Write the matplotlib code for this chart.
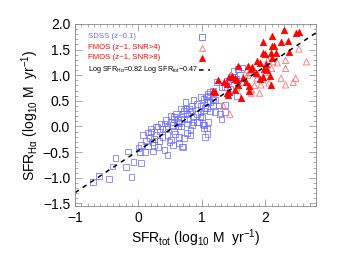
import matplotlib
matplotlib.use('Agg')
import matplotlib.pyplot as plt
import numpy as np
from matplotlib.ticker import MultipleLocator

plt.rcParams['font.family'] = ['Liberation Sans', 'DejaVu Sans']
plt.rcParams['mathtext.fontset'] = 'custom'
plt.rcParams['mathtext.rm'] = 'Liberation Sans'
plt.rcParams['mathtext.it'] = 'Liberation Sans:italic'

# SDSS (z~0.1), open squares
sdss_x = [-0.72, -0.62, -0.46, -0.41, -0.36, -0.20, -0.16, -0.11, -0.08,
          0.04, 0.03, 0.04, 0.00, 0.07, 0.10, 0.12, 0.15, 0.18, 0.20, 0.20,
          0.23, 0.25, 0.28, 0.30, 0.33, 0.33, 0.38, 0.41, 0.41, 0.43, 0.46,
          0.46, 0.46, 0.51, 0.51, 0.54, 0.54, 0.56, 0.56, 0.56, 0.62, 0.62,
          0.62, 0.64, 0.64, 0.67, 0.67, 0.69, 0.70, 0.72, 0.72, 0.74, 0.74,
          0.77, 0.77, 0.77, 0.77, 0.80, 0.82, 0.82, 0.82, 0.85, 0.85, 0.85,
          0.87, 0.87, 0.87, 0.92, 0.92, 0.92, 0.95, 0.98, 0.98, 0.98, 0.98,
          1.00, 1.02, 1.03, 1.03, 1.03, 1.03, 1.05, 1.05, 1.08, 1.08, 1.08,
          1.08, 1.09, 1.10, 1.10, 1.10, 1.10, 1.13, 1.13, 1.13, 1.17, 1.18,
          1.18, 1.21, 1.21, 1.23, 1.26, 1.29, 1.31, 1.31, 1.36, 1.36, 1.36,
          1.39, 1.42, 1.47, 1.49, 1.50, 1.54, 1.57, 1.63, 0.70, 0.67, 0.59,
          0.51, 0.43, 0.36, 0.28, 0.64, 0.72, 1.60, 1.44, 1.55, 0.15, 0.25,
          0.38, 0.49, 0.58, 0.31, 0.22]
sdss_y = [-1.08, -0.97, -1.02, -0.78, -0.62, -0.79, -0.49, -0.98, -0.69,
          -0.71, -0.50, -0.36, -0.42, -0.17, -0.50, -0.29, -0.38, -0.23, -0.10, -0.04,
          -0.49, -0.36, -0.17, 0.00, -0.10, -0.29, -0.20, 0.06, -0.46, -0.04, -0.17,
          0.00, -0.55, -0.26, 0.09, -0.36, 0.03, 0.19, -0.10, 0.15, 0.12, 0.00,
          0.09, -0.33, -0.21, 0.19, 0.00, -0.39, 0.25, 0.31, -0.23, 0.35, 0.48,
          0.25, 0.14, 0.06, -0.13, 0.35, 0.28, -0.07, -0.17, 0.41, 0.31, 0.03,
          0.51, 0.19, 0.09, 0.44, 0.25, 0.09, 0.09, 0.57, 0.28, 0.41, 0.19,
          0.19, 0.04, 0.54, 0.31, 0.03, -0.04, 0.36, -0.20, 0.48, 0.35, 0.57,
          -0.04, -0.15, 0.63, 0.60, 0.09, 0.50, 0.48, 0.29, 0.67, 0.41, 0.70,
          0.54, 0.51, 0.28, 0.86, 0.41, 0.25, 0.76, 0.15, 0.28, 0.42, 0.76,
          0.89, 0.89, 0.96, 0.92, 1.08, 0.92, 1.12, 1.15, -0.40, 0.35, 0.25,
          0.21, 0.12, 0.06, 0.00, 0.06, 0.15, 1.00, 0.74, 0.59, -0.12, -0.25,
          -0.05, -0.30, -0.15, -0.40, -0.30]

# FMOS (z~1, SNR>4), open triangles
snr4_x = [2.53, 2.65, 2.32, 2.32, 2.48, 2.44, 2.25, 2.06, 2.19, 2.10,
          2.12, 2.04, 1.91, 1.78, 1.87, 1.93, 1.83, 1.78, 1.45, 1.75,
          1.80, 1.72, 1.68, 1.44, 1.34, 1.96, 2.00, 1.65, 1.55, 1.88,
          2.32]
snr4_y = [1.51, 1.26, 1.29, 1.13, 0.94, 0.86, 0.94, 0.85, 1.24, 1.13,
          1.26, 1.29, 0.65, 0.65, 0.94, 0.81, 0.80, 0.72, 1.00, 1.05,
          1.10, 1.00, 1.02, 0.24, 0.40, 0.92, 1.05, 0.86, 0.75, 1.02,
          0.81]

# FMOS (z~1, SNR>8), filled triangles
snr8_x = [2.30, 2.48, 2.53, 2.10, 1.97, 2.25, 2.36, 2.10, 2.14, 1.96,
          2.00, 2.09, 2.17, 2.11, 2.37, 1.73, 1.87, 1.91, 1.98, 2.01,
          2.08, 1.92, 1.96, 2.09, 1.52, 1.55, 1.47, 1.43, 1.35, 1.39,
          1.65, 1.70, 1.53, 1.57, 1.39, 1.41, 1.62, 1.79, 1.57, 1.78,
          1.26, 1.18, 1.74, 1.75, 1.85, 2.03, 1.21, 1.42]
snr8_y = [1.88, 1.83, 1.85, 1.76, 1.65, 1.64, 1.66, 1.56, 1.56, 1.44,
          1.42, 1.44, 1.44, 1.33, 1.45, 1.18, 1.27, 1.24, 1.13, 1.21,
          0.99, 0.92, 0.96, 0.81, 0.92, 0.90, 0.99, 0.97, 0.86, 0.83,
          0.94, 0.86, 0.72, 0.80, 0.65, 0.62, 0.55, 1.16, 1.18, 1.13,
          0.90, 0.70, 0.78, 0.70, 1.05, 1.10, 0.67, 0.67]

slope = 0.82
offset = -0.47

labels = ['SDSS (z~0.1)', 'FMOS (z~1, SNR>4)', 'FMOS (z~1, SNR>8)',
          r'Log SFR$_{\rm H\alpha}$=0.82 Log SFR$_{\rm tot}$$-$0.47']

fig = plt.figure(figsize=(3.38, 2.54), dpi=100)
ax = fig.add_axes([0.222, 0.189, 0.713, 0.717])

blue = '#6a6aff'
red = '#ff0000'
pink = '#ff7070'
ax.scatter(sdss_x, sdss_y, s=17, marker='s', facecolors='none',
           edgecolors=blue, linewidths=0.6, alpha=0.85)
ax.scatter(snr4_x, snr4_y, s=20, marker='^', facecolors='none',
           edgecolors=pink, linewidths=0.6)
ax.scatter(snr8_x, snr8_y, s=20, marker='^', facecolors=red,
           edgecolors=red, linewidths=0.6)

xx = np.array([-1.0, 2.8])
ax.plot(xx, slope * xx + offset, color='black', ls=(0, (3, 3)), lw=1.1)

ax.set_xlim(-1, 2.8)
ax.set_ylim(-1.55, 2.0)
ax.xaxis.set_major_locator(MultipleLocator(1))
ax.xaxis.set_minor_locator(MultipleLocator(0.1))
ax.yaxis.set_major_locator(MultipleLocator(0.5))
ax.yaxis.set_minor_locator(MultipleLocator(0.1))
ax.tick_params(which='both', direction='in', top=True, right=True,
               labelsize=10, width=0.5, color='#888888')
ax.tick_params(which='major', length=5)
ax.tick_params(which='minor', length=2.5)
for sp in ax.spines.values():
    sp.set_color('#888888')
    sp.set_linewidth(0.6)

ax.set_xlabel(r'SFR$_{\rm tot}$ (log$_{10}$ M  yr$^{-1}$)', fontsize=10, labelpad=2)
ax.set_ylabel(r'SFR$_{\rm H\alpha}$ (log$_{10}$ M  yr$^{-1}$)', fontsize=10, labelpad=1)

# legend drawn by hand: text left, symbol on the right (IDL style)
rows = [0.929, 0.868, 0.813, 0.747]
cols = [blue, red, red, 'black']
sizes = [5.6, 5.6, 5.6, 5.2]
for lab, yy, c, fs in zip(labels, rows, cols, sizes):
    ax.text(0.054, yy, lab, color=c, fontsize=fs, transform=ax.transAxes,
            ha='left', va='center')
mx = 0.527
ax.plot([mx], [rows[0]], marker='s', mfc='none', mec=blue, ms=4.5, mew=0.6,
        transform=ax.transAxes)
ax.plot([mx], [rows[1]], marker='^', mfc='none', mec=pink, ms=5, mew=0.6,
        transform=ax.transAxes)
ax.plot([mx], [rows[2]], marker='^', mfc=red, mec=red, ms=5, mew=0.6,
        transform=ax.transAxes)
ax.plot([0.515, 0.56], [rows[3], rows[3]], color='black', ls=(0, (3, 3)),
        lw=1.1, transform=ax.transAxes)

fig.savefig('out.png', dpi=100)
